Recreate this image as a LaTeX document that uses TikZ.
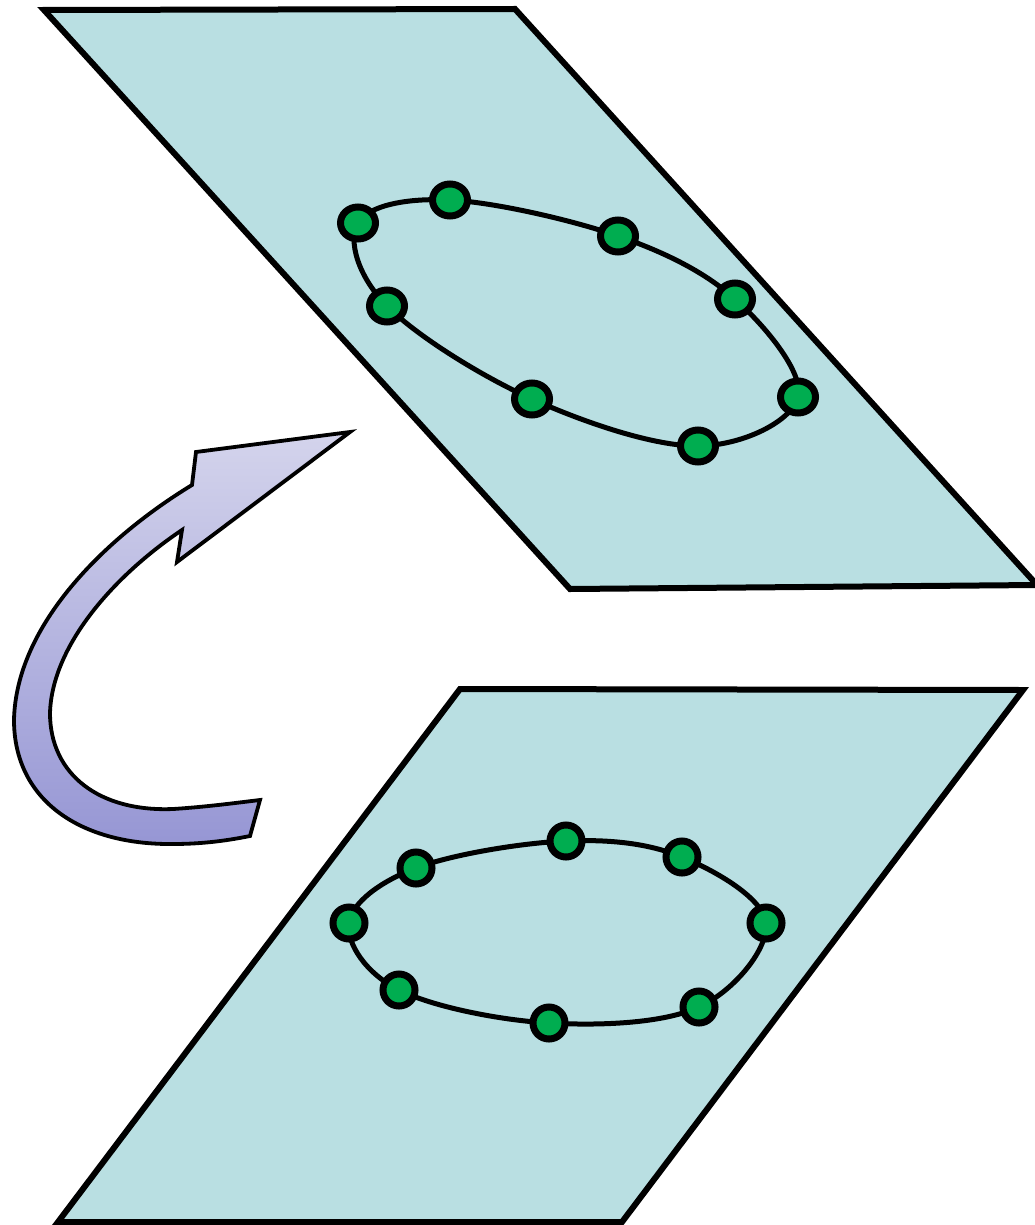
\documentclass[tikz,border=0pt]{standalone}
\usetikzlibrary{calc}
\definecolor{plane}{HTML}{B9DFE2}
\definecolor{dotgreen}{HTML}{00AD50}
\definecolor{arrtop}{HTML}{D4D4EC}
\definecolor{arrbot}{HTML}{9696D4}
\tikzset{
  planebox/.style={fill=plane, draw=black, line width=6, line join=miter},
  ring/.style={draw=black, line width=5},
  topdot/.style={fill=dotgreen, draw=black, line width=7},
  botdot/.style={fill=dotgreen, draw=black, line width=7},
  bigarrow/.style={draw=black, line width=3.8, line join=miter, top color=arrtop, bottom color=arrbot}
}
\begin{document}
\begin{tikzpicture}[x=1pt,y=-1pt]
\useasboundingbox (0,0) rectangle (1035,1225);
% planes
\coordinate (TA) at (44,10);
\coordinate (TB) at (515,9);
\coordinate (TC) at (1037,585);
\coordinate (TD) at (570,589);
\draw[planebox] (TA) -- (TB) -- (TC) -- (TD) -- cycle;
\coordinate (BA) at (460,689);
\coordinate (BB) at (1023,690);
\coordinate (BC) at (622,1222);
\coordinate (BD) at (58,1222);
\draw[planebox] (BA) -- (BB) -- (BC) -- (BD) -- cycle;
% top ring
\draw[ring] plot[smooth cycle, tension=0.6] coordinates {
 (358,223) (450,200) (618,236) (735,299)
 (798,397) (698,446) (532,399) (387,306)};
\foreach \p in {(358,223),(450,200),(618,236),(735,299),(798,397),(698,446),(532,399),(387,306)}
  \draw[topdot] \p ellipse [x radius=17.5, y radius=16];
% bottom ring
\draw[ring] plot[smooth cycle, tension=0.6] coordinates {
 (566,841) (682,857) (766,923) (699,1007)
 (549,1023) (399,990) (349,923) (416,868)};
\foreach \p in {(566,841),(682,857),(766,923),(699,1007),(549,1023),(399,990),(349,923),(416,868)}
  \draw[botdot] \p circle [radius=16];
% curved arrow
\draw[bigarrow] (192,485) -- (196,452) -- (350,432) -- (177,562) -- (182,530)
  .. controls (115,575) and (52,645) .. (50,713)
  .. controls (50,775) and (100,812) .. (173,809)
  .. controls (205,807) and (235,803) .. (260,800)
  -- (250,836)
  .. controls (230,840) and (205,844) .. (173,844)
  .. controls (80,845) and (14,800) .. (14,720)
  .. controls (16,625) and (105,538) .. cycle;
\end{tikzpicture}
\end{document}
